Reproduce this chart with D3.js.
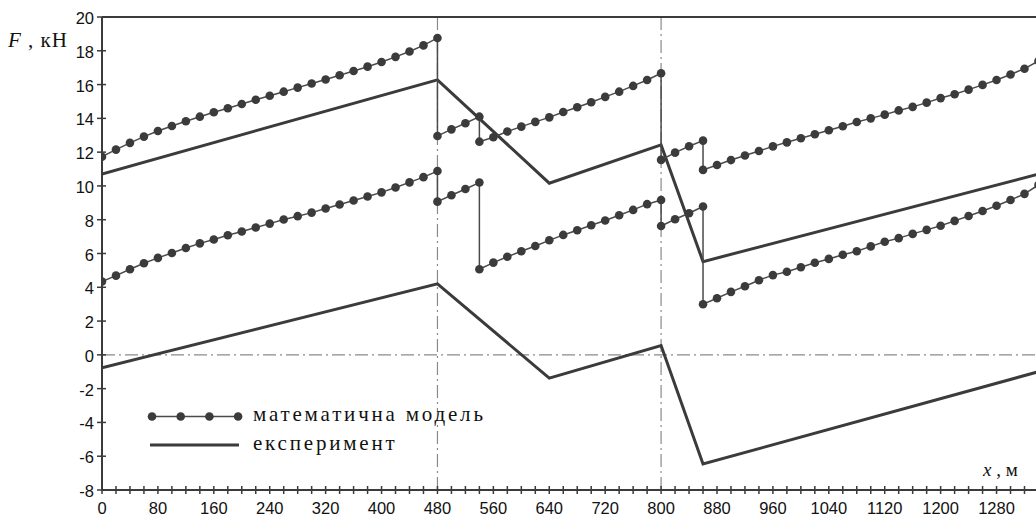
<!DOCTYPE html>
<html>
<head>
<meta charset="utf-8">
<script src="https://cdn.jsdelivr.net/npm/d3@7/dist/d3.min.js"></script>
<style>
  html, body { margin: 0; padding: 0; background: #fff; }
  svg { display: block; }
  .tick-label { font-family: "Liberation Sans", Arial, sans-serif; font-size: 16.5px; fill: #111; }
  .serif { font-family: "Liberation Serif", "Times New Roman", serif; fill: #111; }
</style>
</head>
<body>
<svg id="chart" width="1036" height="516"></svg>
<script>
// Distance along the route, m (model points every 20 m, split at the jumps)
const distA = [0, 20, 40, 60, 80, 100, 120, 140, 160, 180, 200, 220, 240, 260, 280, 300, 320, 340, 360, 380, 400, 420, 440, 460, 480];
const distB = [480, 500, 520, 540];
const distC = [540, 560, 580, 600, 620, 640, 660, 680, 700, 720, 740, 760, 780, 800];
const distD = [800, 820, 840, 860];
const distE = [860, 880, 900, 920, 940, 960, 980, 1000, 1020, 1040, 1060, 1080, 1100, 1120, 1140, 1160, 1180, 1200, 1220, 1240, 1260, 1280, 1300, 1320, 1340];

// Mathematical model, upper curve, kN
const modelUpperA = [11.73, 12.15, 12.55, 12.92, 13.25, 13.55, 13.83, 14.10, 14.36, 14.60, 14.85, 15.10, 15.34, 15.58, 15.82, 16.06, 16.30, 16.55, 16.80, 17.06, 17.34, 17.64, 17.96, 18.32, 18.76];
const modelUpperB = [12.96, 13.35, 13.71, 14.10];
const modelUpperC = [12.62, 12.88, 13.22, 13.51, 13.79, 14.06, 14.38, 14.66, 14.95, 15.27, 15.58, 15.92, 16.27, 16.67];
const modelUpperD = [11.54, 11.97, 12.35, 12.68];
const modelUpperE = [10.95, 11.24, 11.53, 11.80, 12.07, 12.34, 12.58, 12.82, 13.06, 13.30, 13.53, 13.78, 14.00, 14.22, 14.47, 14.68, 14.93, 15.20, 15.43, 15.70, 15.98, 16.27, 16.60, 16.94, 17.40];

// Mathematical model, lower curve, kN
const modelLowerA = [4.34, 4.69, 5.07, 5.42, 5.74, 6.03, 6.33, 6.60, 6.83, 7.08, 7.30, 7.54, 7.77, 8.01, 8.21, 8.42, 8.66, 8.90, 9.14, 9.37, 9.62, 9.91, 10.21, 10.52, 10.88];
const modelLowerB = [9.07, 9.45, 9.82, 10.20];
const modelLowerC = [5.07, 5.46, 5.81, 6.13, 6.44, 6.78, 7.10, 7.38, 7.67, 7.95, 8.26, 8.58, 8.92, 9.17];
const modelLowerD = [7.63, 8.03, 8.38, 8.78];
const modelLowerE = [3.00, 3.35, 3.73, 4.06, 4.42, 4.72, 4.92, 5.19, 5.45, 5.68, 5.93, 6.13, 6.42, 6.70, 6.91, 7.16, 7.40, 7.64, 7.93, 8.22, 8.52, 8.83, 9.17, 9.53, 10.06];

// Experiment (measured), kN
const expDist = [0, 480, 640, 800, 860, 1340];
const expUpper = [10.71, 16.28, 10.16, 12.43, 5.52, 10.70];
const expLower = [-0.76, 4.20, -1.38, 0.55, -6.46, -1.00];

// Axis ticks
const xMinorTicks = d3.range(0, 1321, 20);
const xTickLabels = ["0", "80", "160", "240", "320", "400", "480", "560", "640", "720", "800", "880", "960", "1040", "1120", "1200", "1280"];
const yTickLabels = ["-8", "-6", "-4", "-2", "0", "2", "4", "6", "8", "10", "12", "14", "16", "18", "20"];
const xMarkers = [480, 800];

const legendLabels = ["математична модель", "експеримент"];

const W = 1036, H = 516;
const padLeft = 102, padTop = 17, axisY = 490;
const svg = d3.select("#chart");

const x = d3.scaleLinear().domain([0, 1320]).range([padLeft, padLeft + 1320 * 0.69886]);
const y = d3.scaleLinear().domain([-8, 20]).range([axisY, padTop]);

const ink = "#3b3b3b";

// reference lines: zero level and the two section boundaries
const dashDot = "13,4,2,4";
svg.append("line")
  .attr("x1", padLeft).attr("x2", W).attr("y1", y(0)).attr("y2", y(0))
  .attr("stroke", "#8a8a8a").attr("stroke-width", 1.2).attr("stroke-dasharray", dashDot);
svg.selectAll("line.vmark").data(xMarkers).enter().append("line")
  .attr("class", "vmark")
  .attr("x1", d => x(d)).attr("x2", d => x(d))
  .attr("y1", padTop).attr("y2", axisY)
  .attr("stroke", "#8a8a8a").attr("stroke-width", 1.2).attr("stroke-dasharray", dashDot);

// frame lines
svg.append("line").attr("x1", padLeft).attr("x2", W).attr("y1", padTop).attr("y2", padTop)
  .attr("stroke", ink).attr("stroke-width", 2);
svg.append("line").attr("x1", padLeft).attr("x2", W).attr("y1", axisY).attr("y2", axisY)
  .attr("stroke", ink).attr("stroke-width", 2);
svg.append("line").attr("x1", padLeft).attr("x2", padLeft).attr("y1", padTop).attr("y2", axisY)
  .attr("stroke", ink).attr("stroke-width", 2);

// x ticks (crossing the axis)
svg.selectAll("line.xt").data(xMinorTicks).enter().append("line")
  .attr("class", "xt")
  .attr("x1", d => x(d)).attr("x2", d => x(d))
  .attr("y1", axisY - 4).attr("y2", axisY + 4)
  .attr("stroke", ink).attr("stroke-width", 1.5);
svg.selectAll("text.xl").data(xTickLabels).enter().append("text")
  .attr("class", "tick-label xl")
  .attr("x", d => x(+d)).attr("y", axisY + 24)
  .attr("text-anchor", "middle")
  .text(d => d);

// y ticks
svg.selectAll("line.yt").data(yTickLabels).enter().append("line")
  .attr("class", "yt")
  .attr("x1", padLeft - 5).attr("x2", padLeft + 4)
  .attr("y1", d => y(+d)).attr("y2", d => y(+d))
  .attr("stroke", ink).attr("stroke-width", 1.5);
svg.selectAll("text.yl").data(yTickLabels).enter().append("text")
  .attr("class", "tick-label yl")
  .attr("x", padLeft - 8).attr("y", d => y(+d) + 7)
  .attr("text-anchor", "end")
  .text(d => d);

// axis titles
const fLabel = svg.append("text").attr("class", "serif").attr("x", 8).attr("y", 47)
  .style("font-size", "21px").style("letter-spacing", "1px");
fLabel.append("tspan").style("font-style", "italic").text("F");
fLabel.append("tspan").text(" , кН");

const xLabel = svg.append("text").attr("class", "serif").attr("x", 983).attr("y", 476).style("font-size", "19px");
xLabel.append("tspan").style("font-style", "italic").text("x");
xLabel.append("tspan").text(" ,  м");

// plot area clip
svg.append("clipPath").attr("id", "plot").append("rect")
  .attr("x", padLeft).attr("y", padTop - 6).attr("width", W - padLeft).attr("height", axisY - padTop + 6);
const plot = svg.append("g").attr("clip-path", "url(#plot)");

const line = d3.line().x(d => x(d[0])).y(d => y(d[1]));

// experiment lines
[expUpper, expLower].forEach(vals => {
  plot.append("path")
    .datum(expDist.map((d, i) => [d, vals[i]]))
    .attr("d", line)
    .attr("fill", "none").attr("stroke", ink).attr("stroke-width", 3)
    .attr("stroke-linejoin", "miter");
});

// model curves: segments joined by vertical jumps
function joinSegments(dists, vals) {
  const pts = [];
  dists.forEach((ds, k) => ds.forEach((d, i) => pts.push([d, vals[k][i]])));
  return pts;
}
const dists = [distA, distB, distC, distD, distE];
const modelUpper = joinSegments(dists, [modelUpperA, modelUpperB, modelUpperC, modelUpperD, modelUpperE]);
const modelLower = joinSegments(dists, [modelLowerA, modelLowerB, modelLowerC, modelLowerD, modelLowerE]);

[modelUpper, modelLower].forEach(pts => {
  plot.append("path").datum(pts).attr("d", line)
    .attr("fill", "none").attr("stroke", "#4a4a4a").attr("stroke-width", 1.5);
  plot.selectAll(null).data(pts).enter().append("circle")
    .attr("cx", d => x(d[0])).attr("cy", d => y(d[1])).attr("r", 4.3)
    .attr("fill", ink);
});

// legend
const lg = svg.append("g");
const legendDots = [0, 1, 2, 3];
lg.append("line").attr("x1", 152).attr("x2", 238).attr("y1", 416.5).attr("y2", 416.5)
  .attr("stroke", "#4a4a4a").attr("stroke-width", 1.5);
lg.selectAll("circle").data(legendDots).enter().append("circle")
  .attr("cx", d => 152 + d * 28.7).attr("cy", 416.5).attr("r", 4.3).attr("fill", ink);
lg.append("line").attr("x1", 150).attr("x2", 239).attr("y1", 445).attr("y2", 445)
  .attr("stroke", ink).attr("stroke-width", 3);
lg.selectAll("text").data(legendLabels).enter().append("text")
  .attr("class", "serif")
  .attr("x", 253).attr("y", (d, i) => 421 + i * 28.5)
  .style("font-size", "21px").style("letter-spacing", "2.8px")
  .text(d => d);
</script>
</body>
</html>
